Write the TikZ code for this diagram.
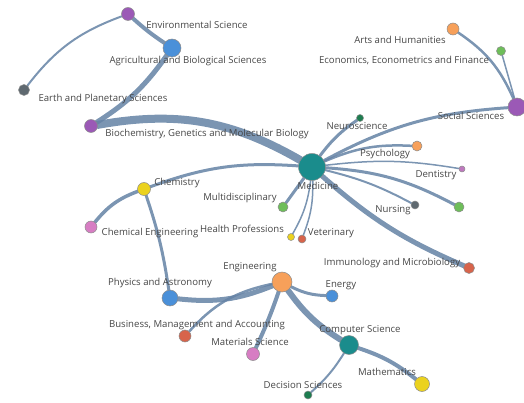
\documentclass[tikz,border=0pt]{standalone}
\usepackage{fontspec}
\setmainfont{Open Sans}
\usepackage{tikz}
\usetikzlibrary{backgrounds}
\definecolor{cpurple}{RGB}{155,89,182}
\definecolor{cblue}{RGB}{74,144,217}
\definecolor{cgray}{RGB}{95,105,112}
\definecolor{corange}{RGB}{247,160,90}
\definecolor{cgreen}{RGB}{110,190,90}
\definecolor{cteal}{RGB}{26,140,140}
\definecolor{cdkgreen}{RGB}{30,125,80}
\definecolor{cpink}{RGB}{215,125,195}
\definecolor{cmauve}{RGB}{190,120,190}
\definecolor{cyellow}{RGB}{235,210,30}
\definecolor{cred}{RGB}{215,100,75}
\definecolor{edgeblue}{RGB}{100,130,165}
\definecolor{lblgray}{RGB}{70,70,70}
\tikzset{dot/.style={circle,draw=black!45,line width=0.5pt,inner sep=0pt}}
\tikzset{lbl/.style={text=lblgray,inner sep=0pt,font=\fontsize{9.6}{11}\selectfont}}
\tikzset{edge/.style={draw=edgeblue,draw opacity=0.85,line cap=round}}

\begin{document}
\begin{tikzpicture}[x=1pt,y=-1pt]
\useasboundingbox (0,0) rectangle (524,403);

% subject areas
\foreach \n/\x/\y/\r/\c in {env/128/14/6.5/cpurple, agri/172/48/9/cblue,
  earth/24/90/5.5/cgray, biochem/91/126/6.5/cpurple, arts/453/29/6/corange,
  econ/501/51/4.5/cgreen, social/517/107/9/cpurple, neuro/360/118/3.5/cdkgreen,
  psych/417/146/5/corange, dent/462/169/3/cmauve, other/459/207/5/cgreen,
  nurs/415/205/4/cgray, immu/469/268/5.5/cred, med/312/167/13.5/cteal,
  multi/283/207/5/cgreen, health/291/237/3.5/cyellow, vet/302/239/4/cred,
  chem/144/189/6.5/cyellow, chemeng/91/227/6/cpink, phys/170/298/8/cblue,
  eng/282/282/10/corange, energy/332/296/6/cblue, bus/185/336/6/cred,
  mat/253/354/6.5/cpink, cs/349/345/9.5/cteal, math/422/384/7.5/cyellow,
  dec/308/395/4/cdkgreen}
  {
 \node[dot,fill=\c,minimum size=2*\r] (\n) at (\x,\y) {};
  }

\foreach \n/\x/\y/\t in {env/197/25/Environmental Science,
  agri/188/61/Agricultural and Biological Sciences,
  earth/103/99/Earth and Planetary Sciences,
  biochem/207/134/{Biochemistry, Genetics and Molecular Biology},
  arts/400/40/Arts and Humanities,
  econ/404/60/{Economics, Econometrics and Finance},
  social/471/116/Social Sciences, neuro/357/126/Neuroscience,
  psych/385/154/Psychology, dent/436/175/Dentistry, med/318/186/Medicine,
  nurs/393/210/Nursing, immu/392/263/Immunology and Microbiology,
  multi/240/198/Multidisciplinary, health/242/229/Health Professions,
  vet/331/233/Veterinary, chem/177/183/Chemistry,
  chemeng/150/233/Chemical Engineering, phys/160/283/Physics and Astronomy,
  eng/250/267/Engineering, energy/341/285/Energy,
  bus/197/325/{Business, Management and Accounting},
  mat/250/342/Materials Science, cs/360/330/Computer Science,
  math/387/372/Mathematics, dec/303/385/Decision Sciences}
  {
 \node[lbl] (\n-l) at (\x,\y) {\t};
  }

% co-occurrence links
\begin{scope}[on background layer]
\foreach \a/\b/\w/\k in {earth/env/2/16, env/agri/4/-4, agri/biochem/5/11,
  biochem/med/8/20, med/social/3/12, med/neuro/3/9, med/psych/2.5/13,
  med/dent/1.5/8, med/other/3/12, med/nurs/2/7, med/immu/5/-9,
  med/multi/3/0, med/health/1.5/11, med/vet/1.5/11, chem/med/3/12,
  chem/chemeng/3.5/-15, chem/phys/3/5, phys/eng/5/-14, eng/bus/2.5/-18,
  eng/mat/4/3, eng/energy/3/-12, eng/cs/6/-11, cs/math/4/10, cs/dec/2/8,
  arts/social/2.5/16, econ/social/1.5/0}
  {
 \draw[edge,line width=\w] (\a) to[bend left=\k] (\b);
  }
\end{scope}

\end{tikzpicture}
\end{document}
